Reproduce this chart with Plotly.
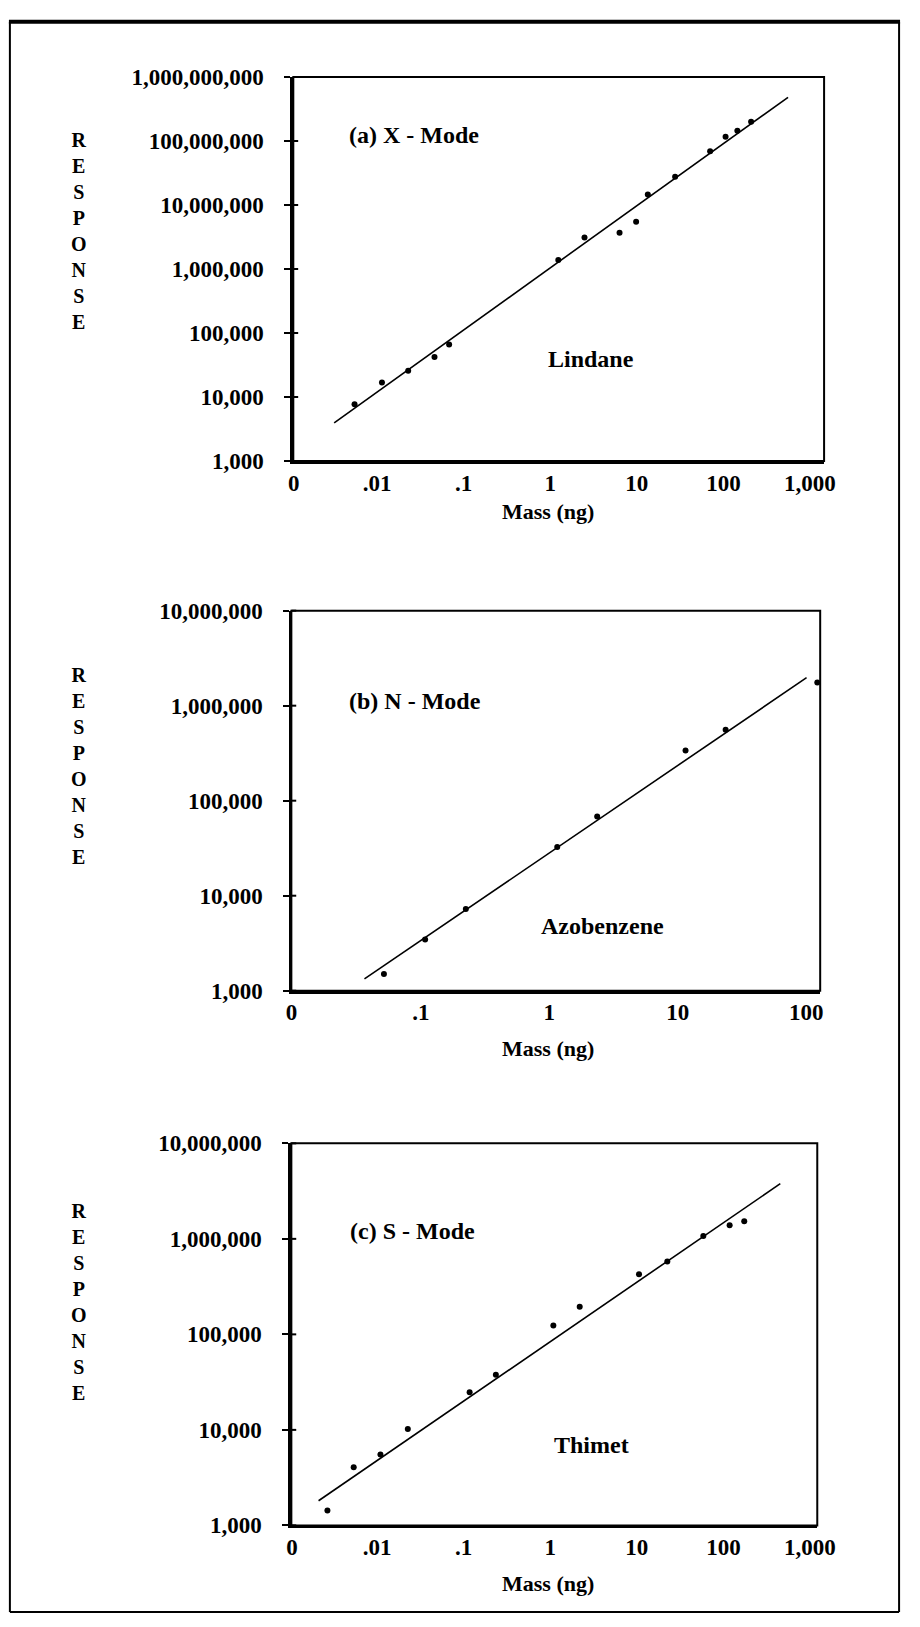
import math
import plotly.graph_objects as go

W, H = 920, 1627

# ---------------- data ----------------
# (a) X-Mode, Lindane
mass_a = [0.0055, 0.0114, 0.0229, 0.0461, 0.068, 1.24, 2.49, 6.32, 9.82, 13.4, 27.7, 70.3, 106, 145, 209]
resp_a = [7730, 16800, 25600, 42000, 66400, 1.38e6, 3.1e6, 3.7e6, 5.46e6, 1.46e7, 2.76e7, 6.9e7, 1.17e8, 1.45e8, 1.99e8]
fit_mass_a = [0.0032, 558]
fit_resp_a = [3950, 4.81e8]

# (b) N-Mode, Azobenzene
mass_b = [0.0516, 0.108, 0.224, 1.153, 2.36, 11.5, 23.6, 122]
resp_b = [1500, 3460, 7240, 32600, 68200, 337000, 557000, 1.75e6]
fit_mass_b = [0.0364, 100.7]
fit_resp_b = [1330, 1.97e6]

# (c) S-Mode, Thimet
mass_c = [0.00267, 0.00537, 0.01094, 0.02265, 0.1172, 0.2355, 1.086, 2.19, 10.6, 22.5, 58.6, 118, 174]
resp_c = [1430, 4050, 5520, 10200, 24700, 37800, 124000, 194000, 426000, 580000, 1.07e6, 1.39e6, 1.53e6]
fit_mass_c = [0.00211, 454]
fit_resp_c = [1810, 3.78e6]

# tick values / labels
x_ticks_a = [0.00109, 0.01, 0.1, 1, 10, 100, 1000]
x_labels_a = ["0", ".01", ".1", "1", "10", "100", "1,000"]
x_ticks_b = [0.00986, 0.1, 1, 10, 100]
x_labels_b = ["0", ".1", "1", "10", "100"]
x_ticks_c = [0.00104, 0.01, 0.1, 1, 10, 100, 1000]
x_labels_c = ["0", ".01", ".1", "1", "10", "100", "1,000"]

y_ticks_a = [1e3, 1e4, 1e5, 1e6, 1e7, 1e8, 1e9]
y_labels_a = ["1,000", "10,000", "100,000", "1,000,000", "10,000,000", "100,000,000", "1,000,000,000"]
y_ticks_bc = [1e3, 1e4, 1e5, 1e6, 1e7]
y_labels_bc = ["1,000", "10,000", "100,000", "1,000,000", "10,000,000"]

mode_labels = ["(a) X - Mode", "(b) N - Mode", "(c) S - Mode"]
compounds = ["Lindane", "Azobenzene", "Thimet"]
x_title = "Mass (ng)"
y_title = "R<br>E<br>S<br>P<br>O<br>N<br>S<br>E"

# ---------------- layout geometry (pixels) ----------------
FONT = "Liberation Serif"


def fx(px):
    return px / W


def fy(py):
    return 1 - py / H


panels = [
    dict(mass=mass_a, resp=resp_a, fm=fit_mass_a, fr=fit_resp_a,
         box=(295, 840, 66, 456), xr=[-2.967, 3.163], yr=[3, 9],
         xt=x_ticks_a, xl=x_labels_a, yt=y_ticks_a, yl=y_labels_a,
         mode_pos=(419, 125), comp_pos=(601, 352), title_y=507, resp_y=222, ylw=3),
    dict(mass=mass_b, resp=resp_b, fm=fit_mass_b, fr=fit_resp_b,
         box=(293, 836, 608, 994), xr=[-2.008, 2.109], yr=[3, 7],
         xt=x_ticks_b, xl=x_labels_b, yt=y_ticks_bc, yl=y_labels_bc,
         mode_pos=(420, 700), comp_pos=(612, 928), title_y=1053, resp_y=766, ylw=2),
    dict(mass=mass_c, resp=resp_c, fm=fit_mass_c, fr=fit_resp_c,
         box=(293, 833, 1149, 1537), xr=[-2.990, 3.084], yr=[3, 7],
         xt=x_ticks_c, xl=x_labels_c, yt=y_ticks_bc, yl=y_labels_bc,
         mode_pos=(417, 1238), comp_pos=(601, 1455), title_y=1596, resp_y=1310, ylw=3),
]

fig = go.Figure()
annotations = []
shapes = []
layout_axes = {}

for i, p in enumerate(panels):
    n = "" if i == 0 else str(i + 1)
    xa, ya = "x" + n, "y" + n
    fig.add_trace(go.Scatter(x=p["fm"], y=p["fr"], mode="lines",
                             line=dict(color="black", width=1.6),
                             xaxis=xa, yaxis=ya, showlegend=False, hoverinfo="skip"))
    fig.add_trace(go.Scatter(x=p["mass"], y=p["resp"], mode="markers",
                             marker=dict(color="black", size=6),
                             xaxis=xa, yaxis=ya, showlegend=False))
    x0, x1, y0, y1 = p["box"]
    tickfont = dict(family=FONT, size=23, color="black", weight="bold")
    layout_axes["xaxis" + n] = dict(
        type="log", range=p["xr"], domain=[fx(x0), fx(x1)], anchor=ya,
        tickvals=p["xt"], ticktext=p["xl"], ticks="", showgrid=False, zeroline=False,
        showline=True, linecolor="black", linewidth=3, tickfont=tickfont,
        ticklabelstandoff=-1, fixedrange=True)
    layout_axes["yaxis" + n] = dict(
        type="log", range=p["yr"], domain=[fy(y1), fy(y0)], anchor=xa,
        tickvals=p["yt"], ticktext=p["yl"], ticks="outside", ticklen=6, tickwidth=2,
        tickcolor="black", showgrid=False, zeroline=False,
        showline=True, linecolor="black", linewidth=p["ylw"], tickfont=tickfont,
        ticklabelstandoff=16, fixedrange=True)
    # plot frame (top/right)
    shapes.append(dict(type="rect", xref="paper", yref="paper",
                       x0=fx(x0), x1=fx(x1), y0=fy(y1), y1=fy(y0),
                       line=dict(color="black", width=2)))
    # inner half of the cross-shaped y ticks
    inner = 5 / (x1 - x0)
    for v in p["yt"]:
        f = (math.log10(v) - p["yr"][0]) / (p["yr"][1] - p["yr"][0])
        shapes.append(dict(type="line", xref=xa + " domain", yref=ya + " domain",
                           x0=0, x1=inner, y0=f, y1=f,
                           line=dict(color="black", width=2)))
    lab_font = dict(family=FONT, size=24, color="black", weight="bold")
    annotations.append(dict(text=mode_labels[i], x=fx(p["mode_pos"][0]), y=fy(p["mode_pos"][1]),
                            xref="paper", yref="paper", showarrow=False, font=lab_font,
                            xanchor="center", yanchor="middle"))
    annotations.append(dict(text=compounds[i], x=fx(p["comp_pos"][0]), y=fy(p["comp_pos"][1]),
                            xref="paper", yref="paper", showarrow=False, font=lab_font,
                            xanchor="center", yanchor="middle"))
    annotations.append(dict(text=x_title, x=fx(557), y=fy(p["title_y"]),
                            xref="paper", yref="paper", showarrow=False,
                            font=dict(family=FONT, size=22, color="black", weight="bold"),
                            xanchor="center", yanchor="middle"))
    annotations.append(dict(text=y_title, x=fx(75), y=fy(p["resp_y"]),
                            xref="paper", yref="paper", showarrow=False,
                            font=dict(family=FONT, size=20, color="black", weight="bold"),
                            xanchor="center", yanchor="middle", align="center"))

# outer frame
shapes.append(dict(type="line", xref="paper", yref="paper", x0=fx(3), x1=fx(918), y0=fy(10), y1=fy(10),
                   line=dict(color="black", width=4)))
shapes.append(dict(type="line", xref="paper", yref="paper", x0=fx(4), x1=fx(4), y0=fy(10), y1=fy(1625),
                   line=dict(color="black", width=2)))
shapes.append(dict(type="line", xref="paper", yref="paper", x0=fx(917), x1=fx(917), y0=fy(10), y1=fy(1625),
                   line=dict(color="black", width=2)))
shapes.append(dict(type="line", xref="paper", yref="paper", x0=fx(4), x1=fx(917), y0=fy(1625), y1=fy(1625),
                   line=dict(color="black", width=2)))

fig.update_layout(
    width=W, height=H, margin=dict(l=0, r=0, t=0, b=0),
    paper_bgcolor="white", plot_bgcolor="white",
    font=dict(family=FONT, color="black"),
    annotations=annotations, shapes=shapes, showlegend=False,
    **layout_axes,
)

fig.write_html("out.html")
